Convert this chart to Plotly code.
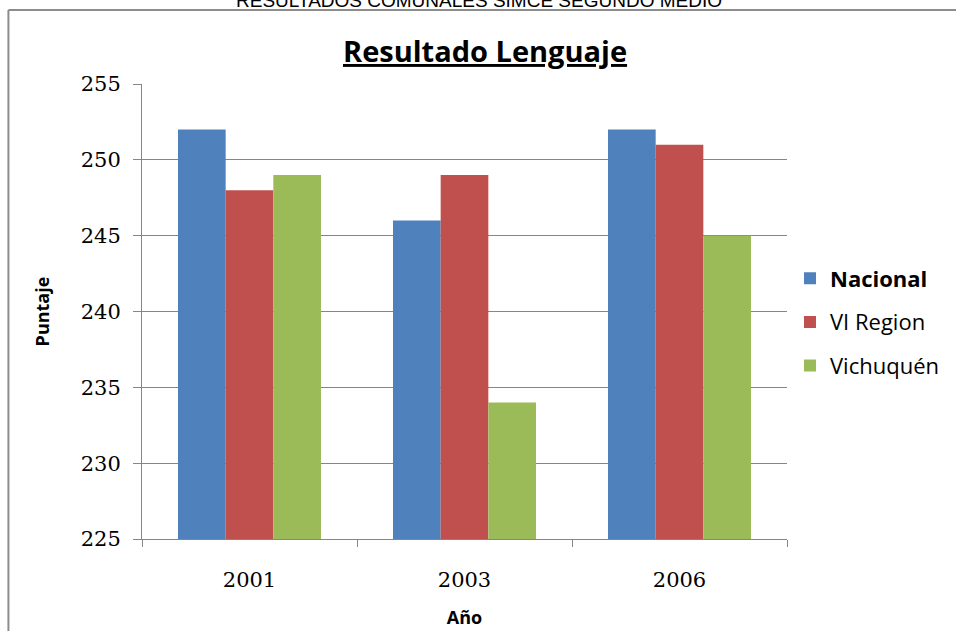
import plotly.graph_objects as go

years = ["2001", "2003", "2006"]
nacional = [252, 246, 252]
vi_region = [248, 249, 251]
vichuquen = [249, 234, 245]
series_names = ["<b>Nacional</b>", "VI Region", "Vichuquén"]
colors = ["#4F81BD", "#C0504D", "#9BBB59"]
y_ticks = [225, 230, 235, 240, 245, 250, 255]

W, H = 956, 631
L, R, T, B = 142, 167, 84, 92
pw, ph = W - L - R, H - T - B

def px(x):
    return (x - L) / pw

def py(y):
    return (H - B - y) / ph

fig = go.Figure()
for i, (name, vals) in enumerate(zip(series_names, [nacional, vi_region, vichuquen])):
    fig.add_trace(go.Bar(x=years, y=vals, name=name, marker_color=colors[i],
                         marker_line_width=0, legendgroup=str(i)))

grid_c = "#868686"
fig.update_layout(
    width=W, height=H,
    margin=dict(l=L, r=R, t=T, b=B),
    paper_bgcolor="white", plot_bgcolor="white",
    barmode="group", bargap=0.335, bargroupgap=0,
    showlegend=True,
    legend=dict(x=px(792), xanchor="left", y=py(322), yanchor="middle",
                font=dict(family="Open Sans", size=22, color="black"),
                tracegroupgap=12, bgcolor="rgba(0,0,0,0)"),
    xaxis=dict(type="category", showline=True, linecolor=grid_c, linewidth=1,
               ticks="outside", tickson="boundaries", ticklen=7, tickcolor=grid_c,
               tickfont=dict(family="DejaVu Serif", size=21, color="black"),
               ticklabelstandoff=22, automargin=False,
               title=dict(text="<b>Año</b>", font=dict(family="Open Sans", size=18, color="black"),
                          standoff=20)),
    yaxis=dict(range=[225, 255], tickvals=y_ticks, showline=True, linecolor=grid_c,
               linewidth=1, showgrid=True, gridcolor=grid_c, gridwidth=1,
               ticks="outside", ticklen=8, tickcolor=grid_c, zeroline=False,
               tickfont=dict(family="DejaVu Serif", size=21, color="black"),
               ticklabelstandoff=8, automargin=False,
               title=dict(text="<b>Puntaje</b>", font=dict(family="Open Sans", size=18, color="black"),
                          standoff=26)),
)

fig.add_annotation(text="Resultado Lenguaje", xref="paper", yref="paper",
                   x=px(486), y=py(50), xanchor="center", yanchor="middle",
                   showarrow=False,
                   font=dict(family="Open Sans", size=29, color="black", weight="bold",
                             lineposition="under"))
fig.add_annotation(text="RESULTADOS COMUNALES SIMCE SEGUNDO MEDIO", xref="paper", yref="paper",
                   x=px(480), y=py(0), xanchor="center", yanchor="middle",
                   showarrow=False,
                   font=dict(family="Liberation Sans", size=19, color="black"))

fig.add_shape(type="line", xref="paper", yref="paper", x0=px(8), y0=py(10), x1=px(1000), y1=py(10),
              line=dict(color="#8c8c8c", width=2), layer="above")
fig.add_shape(type="line", xref="paper", yref="paper", x0=px(8), y0=py(10), x1=px(8), y1=py(700),
              line=dict(color="#8c8c8c", width=2), layer="above")

fig.write_html("out.html", config={"displayModeBar": False},
               post_script="document.body.style.margin='0';document.body.style.overflow='hidden';")
